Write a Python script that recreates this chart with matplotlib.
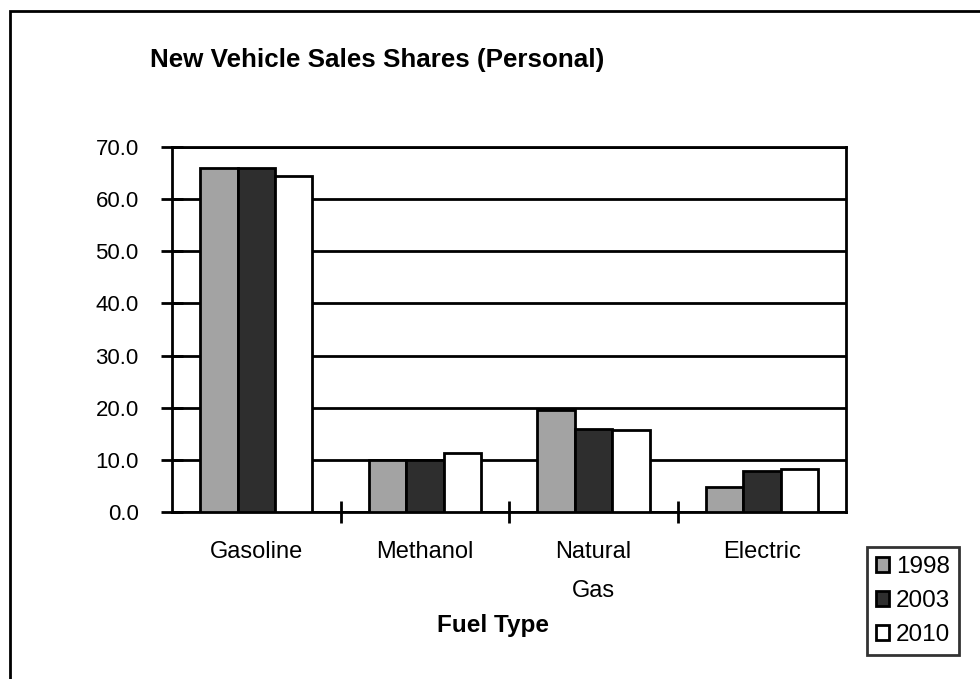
import matplotlib.pyplot as plt
import matplotlib.patches as mpatches
import numpy as np

plt.rcParams['font.family'] = ['Liberation Sans', 'DejaVu Sans']

# data
fuels = ['Gasoline', 'Methanol', 'Natural\nGas', 'Electric']
years = ['1998', '2003', '2010']
share_1998 = [66.0, 10.0, 19.6, 4.8]
share_2003 = [66.0, 10.0, 15.9, 7.9]
share_2010 = [64.5, 11.3, 15.8, 8.3]
colors = ['#a3a3a3', '#2e2e2e', '#ffffff']

fig = plt.figure(figsize=(9.8, 6.79), dpi=100)
ax = fig.add_axes([0.1755, 0.246, 0.688, 0.5375])

# outer chart border (only top & left visible in the scan)
fig.patches.append(mpatches.Rectangle((10 / 980, -0.1), 1.2, 1 - 11 / 679 + 0.1,
                                      transform=fig.transFigure, fill=False,
                                      lw=2, edgecolor='black', zorder=0))

x = np.arange(len(fuels))
w = 1 / 4.5
for i, vals in enumerate([share_1998, share_2003, share_2010]):
    ax.bar(x + (i - 1) * w, vals, width=w, color=colors[i], edgecolor='black',
           linewidth=2, label=years[i], zorder=3)

ax.set_xlim(-0.5, 3.5)
ax.set_ylim(0, 70)
ax.set_yticks(np.arange(0, 71, 10))
ax.set_yticklabels([f'{v:.1f}' for v in np.arange(0, 71, 10)])
ax.yaxis.grid(True, color='black', lw=2, zorder=1)
ax.set_axisbelow(True)

ax.set_xticks(x)
ax.set_xticklabels(fuels, linespacing=2.0)
ax.tick_params(axis='x', length=0, pad=21, labelsize=17)
ax.set_xticks([0.5, 1.5, 2.5], minor=True)
ax.tick_params(axis='x', which='minor', direction='inout', length=16, width=2)
ax.tick_params(axis='y', direction='inout', length=16, width=2, pad=16, labelsize=16)

for s in ax.spines.values():
    s.set_linewidth(2)

fig.text(493 / 980, 1 - 632 / 679, 'Fuel Type', fontsize=17.5, fontweight='bold',
         ha='center', va='baseline')
fig.text(150 / 980, 1 - 67 / 679, 'New Vehicle Sales Shares (Personal)',
         fontsize=18.7, fontweight='bold', va='baseline', ha='left')

leg = ax.legend(loc='center left', bbox_to_anchor=(867 / 980, 1 - 601 / 679),
                bbox_transform=fig.transFigure, fontsize=17.5, frameon=True,
                fancybox=False, edgecolor='black', handlelength=0.55,
                handleheight=0.55, handletextpad=0.3, borderpad=0.35,
                labelspacing=0.5, borderaxespad=0)
leg.get_frame().set_linewidth(2)

plt.savefig('out.png', dpi=100)
plt.close()
